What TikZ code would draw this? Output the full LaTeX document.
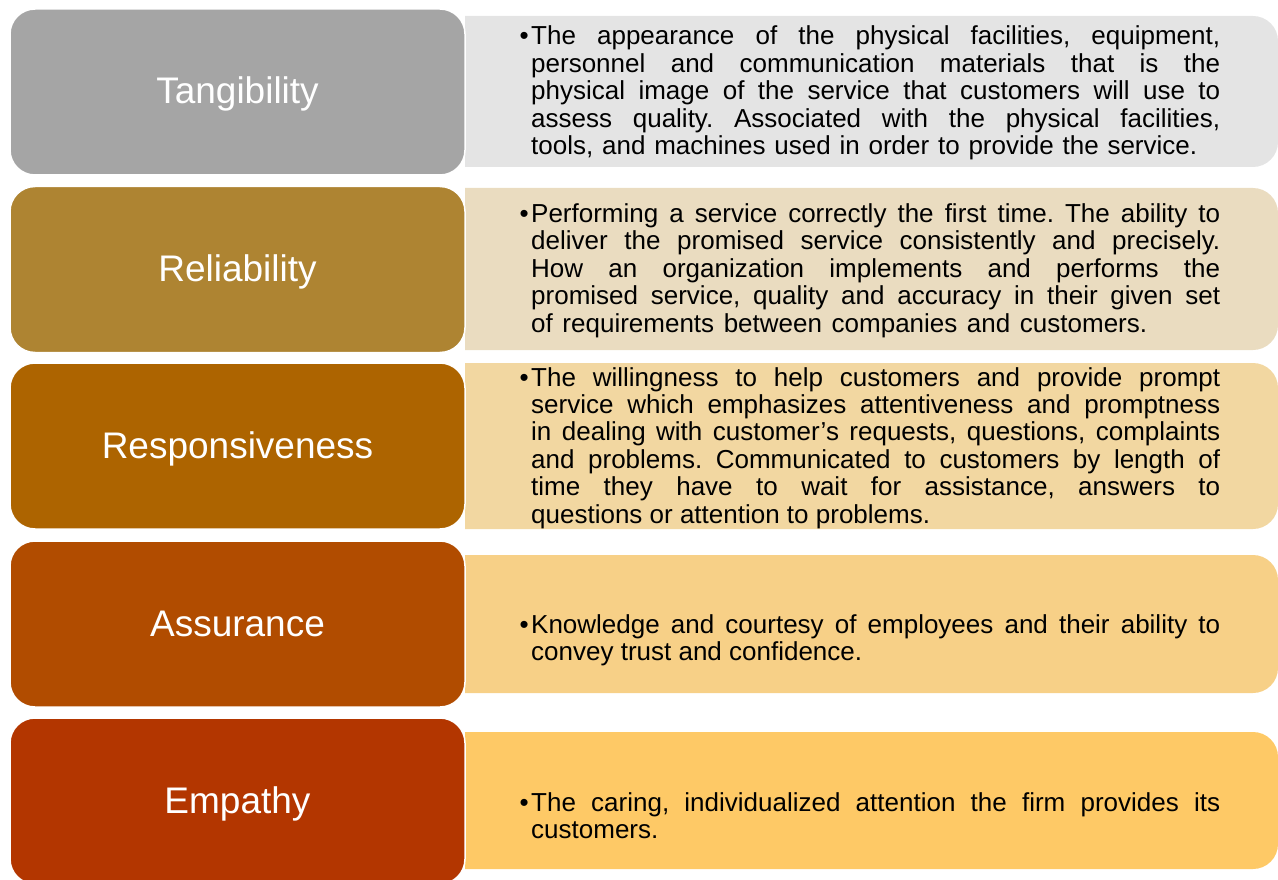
\documentclass[tikz,border=0pt]{standalone}
\usepackage{fontspec}
\setmainfont{Liberation Sans}
\hbadness=10000
\frenchspacing
\definecolor{tanC}{HTML}{A5A5A5}
\definecolor{relC}{HTML}{AE8432}
\definecolor{resC}{HTML}{AD6400}
\definecolor{assC}{HTML}{B14C00}
\definecolor{empC}{HTML}{B33600}
\definecolor{tanP}{HTML}{E4E4E4}
\definecolor{relP}{HTML}{EADCC0}
\definecolor{resP}{HTML}{F2D7A1}
\definecolor{assP}{HTML}{F7D087}
\definecolor{empP}{HTML}{FEC966}
% description panel: square on the left, rounded on the right
\newcommand{\descpanel}[3]{%
  \begin{scope}
    \clip (465,#1) rectangle (1280,#2);
    \fill[#3, rounded corners=25pt] (420,#1) rectangle (1278,#2);
  \end{scope}}
% one justified line of a description
\newcommand{\jline}[1]{\makebox[\linewidth][s]{#1}\\}
% a closing line spread to a given width
\newcommand{\wline}[2]{\makebox[#1][s]{#2}}
\newcommand{\bul}{\llap{\textbullet\hspace{2.5pt}}}
\begin{document}
\begin{tikzpicture}[x=1pt,y=-1pt,
  dimbox/.style={draw=white, line width=1.5pt, rounded corners=25pt,
    minimum width=455pt, minimum height=166pt, inner sep=0pt, text=white,
    font=\fontsize{37pt}{40pt}\selectfont, text height=26.5pt, text depth=2.5pt},
  bodytext/.style={anchor=base west, inner sep=0pt, text=black,
    font=\fontsize{26pt}{27.4pt}\selectfont}]
\useasboundingbox (0,0) rectangle (1278,880);
\clip (0,0) rectangle (1278,880);

% panels behind the dimension boxes
\descpanel{16}{167}{tanP}
\descpanel{188}{350}{relP}
\descpanel{363}{529}{resP}
\descpanel{555}{693}{assP}
\descpanel{732}{869}{empP}

% dimension boxes
\node[dimbox, fill=tanC] (tan) at (237.5,92)  {Tangibility};
\node[dimbox, fill=relC] (rel) at (237.5,269.5) {Reliability};
\node[dimbox, fill=resC] (res) at (237.5,446) {Responsiveness};
\node[dimbox, fill=assC] (ass) at (237.5,624) {Assurance};
\node[dimbox, fill=empC] (emp) at (237.5,801) {Empathy};

% descriptions
\node[bodytext] (tantxt) at (531,45) {\parbox[t]{689pt}{%
\jline{\bul The appearance of the physical facilities, equipment,}
\jline{personnel and communication materials that is the}
\jline{physical image of the service that customers will use to}
\jline{assess quality. Associated with the physical facilities,}
\wline{666pt}{tools, and machines used in order to provide the service.}}};

\node[bodytext] (reltxt) at (531,222.5) {\parbox[t]{689pt}{%
\jline{\bul Performing a service correctly the first time. The ability to}
\jline{deliver the promised service consistently and precisely.}
\jline{How an organization implements and performs the}
\jline{promised service, quality and accuracy in their given set}
\hspace{2pt}\wline{616pt}{of requirements between companies and customers.}}};

\node[bodytext] (restxt) at (531,386) {\parbox[t]{689pt}{%
\jline{\bul The willingness to help customers and provide prompt}
\jline{service which emphasizes attentiveness and promptness}
\jline{in dealing with customer’s requests, questions, complaints}
\jline{and problems. Communicated to customers by length of}
\jline{time they have to wait for assistance, answers to}
questions or attention to problems.}};

\node[bodytext] (asstxt) at (531,633) {\parbox[t]{689pt}{%
\jline{\bul Knowledge and courtesy of employees and their ability to}
convey trust and confidence.}};

\node[bodytext] (emptxt) at (531,811) {\parbox[t]{689pt}{%
\jline{\bul The caring, individualized attention the firm provides its}
customers.}};
\end{tikzpicture}
\end{document}
